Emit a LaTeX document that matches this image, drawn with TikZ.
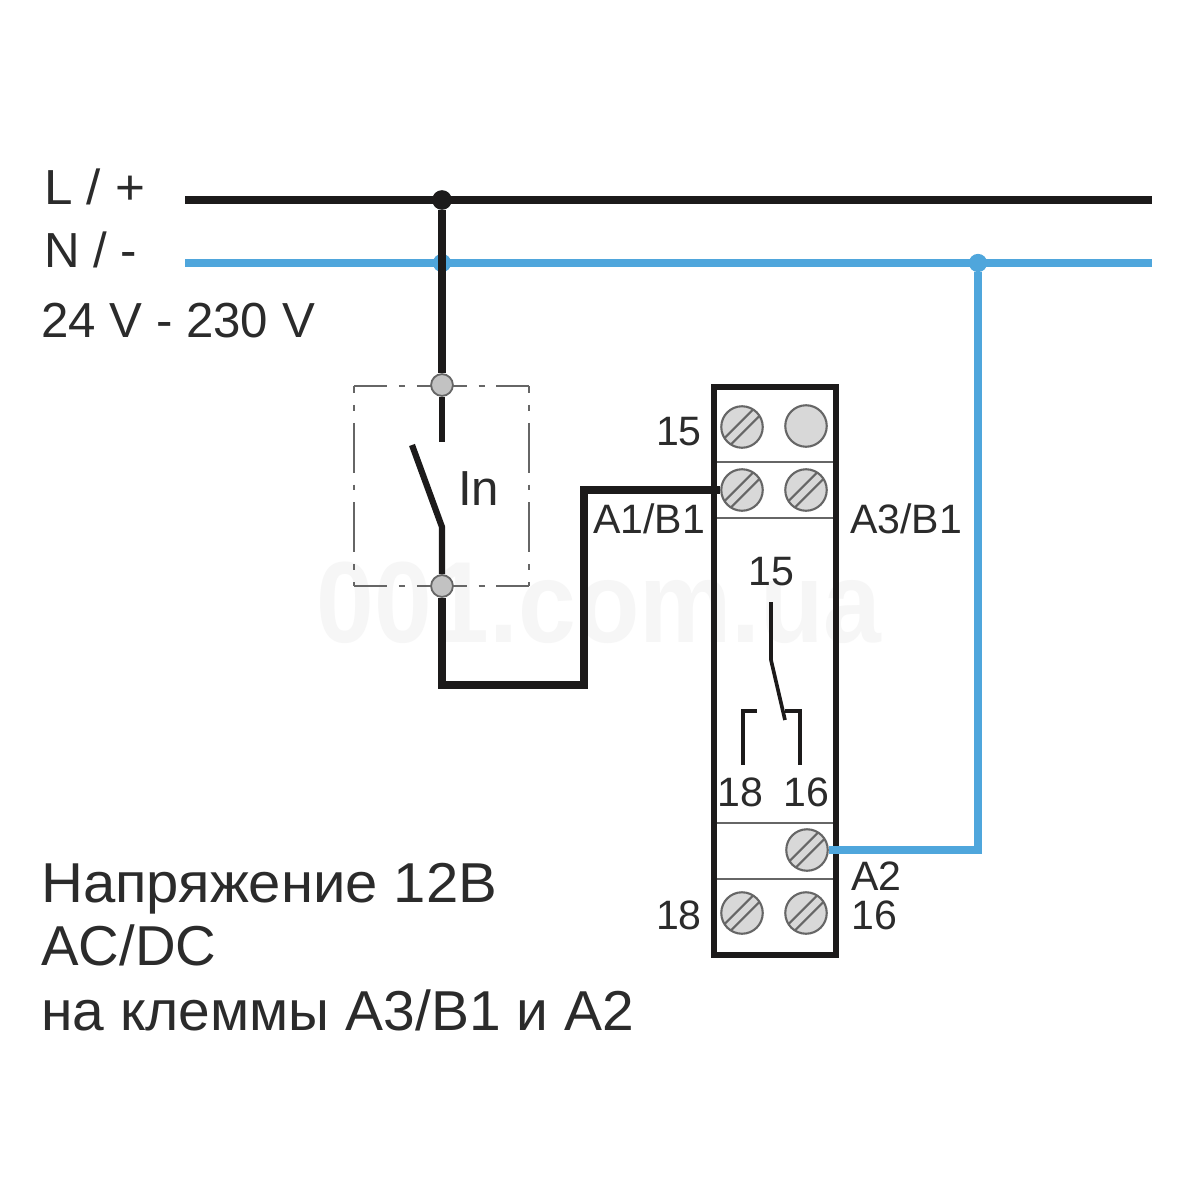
\documentclass[tikz,border=0pt]{standalone}
\usepackage{fontspec}
\setmainfont{Liberation Sans}
\usetikzlibrary{calc}
\definecolor{wireblue}{HTML}{4FA6DC}
\definecolor{wireblack}{HTML}{1C1A1A}
\definecolor{screwfill}{HTML}{D8D8D8}
\definecolor{screwline}{HTML}{666666}
\definecolor{txtc}{HTML}{2B2B2B}
\tikzset{
  blackwire/.style={draw=wireblack,line width=5.6pt,line join=miter},
  bluewire/.style={draw=wireblue,line width=5.6pt,line join=miter},
  switchwire/.style={draw=wireblack,line width=4.4pt,line join=round},
  thinwire/.style={draw=wireblack,line width=2.6pt},
  relaybox/.style={draw=wireblack,line width=3.6pt},
  rowline/.style={draw=screwline,line width=1.5pt},
  screwhead/.style={circle,draw=screwline,fill=screwfill,line width=1.5pt,inner sep=0pt,minimum size=29.5pt},
  slotline/.style={draw=screwline,line width=1.5pt},
  termdot/.style={circle,draw=screwline,fill=screwfill!90!black,line width=1.3pt,inner sep=0pt,minimum size=15.5pt},
  dotblack/.style={circle,fill=wireblack,inner sep=0pt,minimum size=14pt},
  dotblue/.style={circle,fill=wireblue,inner sep=0pt,minimum size=13pt},
  hightext/.style={anchor=base west,inner sep=0pt,text=txtc,font=\fontsize{35pt}{35pt}\selectfont},
  bigtext/.style={anchor=base west,inner sep=0pt,text=txtc,font=\fontsize{40pt}{40pt}\selectfont},
  smalltext/.style={inner sep=0pt,text=txtc,font=\fontsize{29.2pt}{29.2pt}\selectfont},
  frameside/.style={draw=screwline,line width=1.4pt,dash pattern=on 35.4pt off 8.5pt on 4.25pt off 8.5pt}
}
\newcommand{\screwat}[3]{%
  \node[screwhead] (#1) at (#2,#3) {};
  \draw[slotline] ($(#1.center)+(-11.3,17.7)$) -- ($(#1.center)+(17.7,-11.3)$);
  \draw[slotline] ($(#1.center)+(-17.7,11.3)$) -- ($(#1.center)+(11.3,-17.7)$);
}
\begin{document}
\begin{tikzpicture}[x=0.025cm,y=-0.025cm]
\useasboundingbox[fill=white] (0,0) rectangle (1200,1200);

% watermark
\node[inner sep=0pt,anchor=base,text=black!3.5,xscale=0.90,font=\fontsize{82pt}{82pt}\selectfont\bfseries] (wm) at (599,642) {001.com.ua};

% anchor points
\coordinate (lstart) at (185,200);
\coordinate (lend) at (1152,200);
\coordinate (nstart) at (185,263);
\coordinate (nend) at (1152,263);

% blue junctions and line
\draw[bluewire] (nstart) -- (nend);
\node[dotblue] (jn1) at (442,263) {};
\node[dotblue] (jn2) at (978,263) {};

% relay box
\coordinate (boxtl) at (714,387);
\coordinate (boxbr) at (836,955);
\draw[rowline] (714,462) -- (836,462);
\draw[rowline] (714,518) -- (836,518);
\draw[rowline] (714,823) -- (836,823);
\draw[rowline] (714,879) -- (836,879);
\draw[relaybox] (boxtl) rectangle (boxbr);

% screws
\screwat{s15}{742}{427}
\node[screwhead] (plain) at (806,426) {};
\screwat{a1}{742}{490}
\screwat{a3}{806}{490}
\screwat{a2}{807}{850}
\screwat{s18}{742}{913}
\screwat{s16}{806}{913}

% dash-dot frame
\coordinate (ftl) at (354,386);
\coordinate (ftr) at (529,386);
\coordinate (fbl) at (354,586);
\coordinate (fbr) at (529,586);
\draw[frameside,dash phase=12pt] (ftl) -- (ftr);
\draw[frameside,dash phase=12pt] (fbl) -- (fbr);
\draw[frameside,dash phase=30.5pt] (ftl) -- (fbl);
\draw[frameside,dash phase=30.5pt] (ftr) -- (fbr);

% black wires
\draw[blackwire] (lstart) -- (lend);
\node[dotblack] (jl) at (442,200) {};
\node[termdot] (t1) at (442,385) {};
\node[termdot] (t2) at (442,586) {};
\coordinate (fixed) at (442,442);
\coordinate (bladetip) at (412,445);
\coordinate (bladepivot) at (442,527);
\coordinate (c1) at (442,685);
\coordinate (c2) at (584,685);
\coordinate (c3) at (584,490);
\draw[blackwire] (jl) -- (t1);
\draw[switchwire] (t1) -- (fixed);
\draw[switchwire] (bladetip) -- (bladepivot) -- (t2);
\draw[blackwire] (t2) -- (c1) -- (c2) -- (c3) -- (a1.west);

% blue wire to relay
\coordinate (c4) at (978,850);
\draw[bluewire] (a2.east) -- (c4) -- (jn2);

% contact symbol
\coordinate (k1) at (771,602);
\coordinate (k2) at (771,660);
\coordinate (k3) at (785,720);
\coordinate (k4) at (785,711);
\coordinate (k5) at (800,711);
\coordinate (k6) at (800,765);
\coordinate (k7) at (757,711);
\coordinate (k8) at (743,711);
\coordinate (k9) at (743,765);
\draw[thinwire] (k1) -- (k2) -- (k3);
\draw[thinwire] (k4) -- (k5) -- (k6);
\draw[thinwire] (k7) -- (k8) -- (k9);

% texts
\node[hightext,xscale=1.04] (tl) at (44,205) {L / +};
\node[hightext] (tn) at (44,268) {N / -};
\node[hightext] (tv) at (41,338) {24 V - 230 V};
\node[hightext] (tin) at (458,505) {In};
\node[bigtext,xscale=1.032] (b1) at (41,902) {Напряжение 12В};
\node[bigtext] (b2) at (41,965) {AC/DC};
\node[bigtext,xscale=1.012] (b3) at (41,1030) {на клеммы A3/B1 и A2};
\node[smalltext,anchor=base east] (l15) at (702,445) {15};
\node[smalltext,anchor=base west] (la1) at (593,533) {A1/B1};
\node[smalltext,anchor=base west] (la3) at (850,533) {A3/B1};
\node[smalltext,anchor=base] (c15) at (771,585) {15};
\node[smalltext,anchor=base] (c18) at (740,806) {18};
\node[smalltext,anchor=base] (c16) at (806,806) {16};
\node[smalltext,anchor=base west] (la2) at (851,890) {A2};
\node[smalltext,anchor=base west] (l16) at (851,929) {16};
\node[smalltext,anchor=base east] (l18) at (702,929) {18};
\end{tikzpicture}
\end{document}
